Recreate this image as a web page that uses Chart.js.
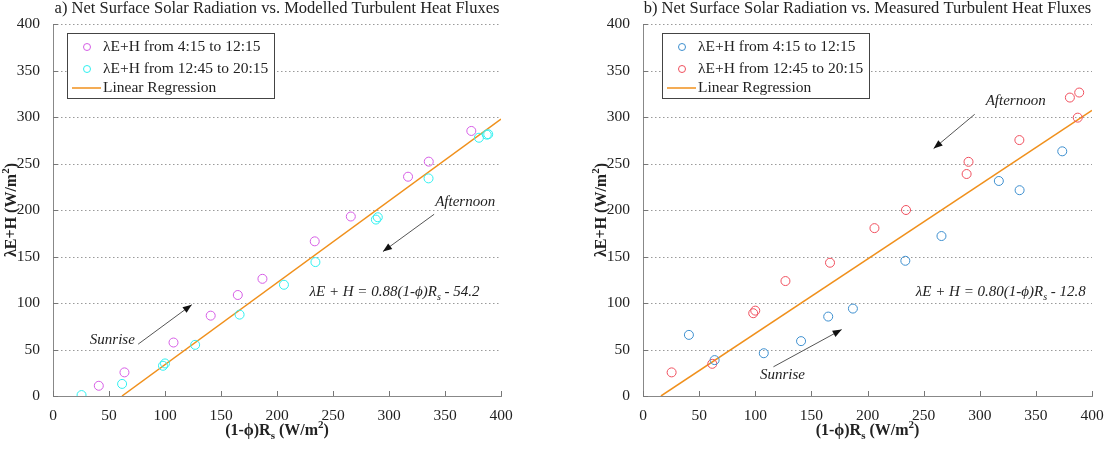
<!DOCTYPE html>
<html>
<head>
<meta charset="utf-8">
<script src="https://cdn.jsdelivr.net/npm/chart.js@4.4.0/dist/chart.umd.min.js"></script>
<style>
body{margin:0;background:#fff;width:1115px;height:450px;overflow:hidden;position:relative}
.panel{position:absolute;top:0;height:450px}
</style>
</head>
<body>
<div class="panel" style="left:0;width:557px"><canvas id="plotA"></canvas></div>
<div class="panel" style="left:557px;width:558px"><canvas id="plotB"></canvas></div>
<script>
// tick labels, same on both axes
const axisTicks = [0, 50, 100, 150, 200, 250, 300, 350, 400];

// (1-phi)Rs for the morning half hours (4:15 - 12:15)
const xMorning = [40.9, 63.8, 107.6, 140.8, 165, 187, 233.7, 265.9, 317, 335.5, 373.5];
const modelMorning = [11, 25.4, 57.5, 86.4, 108.6, 126, 166.3, 193, 235.8, 252, 285];
const measMorning = [65.7, 38.6, 46, 59, 85.4, 94, 145.4, 172, 231.2, 221.3, 263.1];

// (1-phi)Rs for the afternoon half hours (12:45 - 20:15)
const xAfternoon = [25.5, 61.7, 98.2, 100, 126.9, 166.6, 206.2, 234.3, 288.3, 290, 335.3, 380.3, 387.3, 388.6];
const modelAfternoon = [1, 13, 32.5, 35, 55, 87.5, 119.6, 144, 189.7, 192.2, 234, 277.7, 281, 281.5];
const measAfternoon = [25.4, 34.6, 89, 91.8, 123.6, 143.3, 180.5, 200, 238.7, 251.8, 275.2, 320.9, 299.3, 326.3];

// regression line end points
const regModelX = [61.6, 400];
const regModelY = [0, 297.8];
const regMeasX = [16, 400];
const regMeasY = [0, 307.2];

const SERIF = '"Liberation Serif", "Times New Roman", serif';
Chart.defaults.font.family = SERIF;
Chart.defaults.font.size = 15.5;
Chart.defaults.color = '#222';

function pts(xs, ys){
    return xs.map((x, i) => ({x: x, y: ys[i]}));
}

// draw text made of pieces, some of them sub/superscript
function richText(ctx, parts, x, y, style, size, align){
    let w = 0;
    parts.forEach(p => {
        ctx.font = style + ' ' + (p.sub || p.sup ? size - 5 : size) + 'px ' + SERIF;
        p.w = ctx.measureText(p.t).width;
        w += p.w;
    });
    let cx = align === 'center' ? x - w / 2 : x;
    ctx.textAlign = 'left';
    ctx.textBaseline = 'middle';
    parts.forEach(p => {
        ctx.font = style + ' ' + (p.sub || p.sup ? size - 5 : size) + 'px ' + SERIF;
        let dy = p.sub ? 5 : (p.sup ? -6 : 0);
        ctx.fillText(p.t, cx, y + dy);
        cx += p.w;
    });
}

function arrow(ctx, x1, y1, x2, y2){
    ctx.save();
    ctx.strokeStyle = '#555';
    ctx.fillStyle = '#111';
    ctx.lineWidth = 1;
    ctx.beginPath();
    ctx.moveTo(x1, y1);
    ctx.lineTo(x2, y2);
    ctx.stroke();
    const a = Math.atan2(y2 - y1, x2 - x1);
    ctx.beginPath();
    ctx.moveTo(x2, y2);
    ctx.lineTo(x2 - 9 * Math.cos(a) + 3.5 * Math.sin(a), y2 - 9 * Math.sin(a) - 3.5 * Math.cos(a));
    ctx.lineTo(x2 - 9 * Math.cos(a) - 3.5 * Math.sin(a), y2 - 9 * Math.sin(a) + 3.5 * Math.cos(a));
    ctx.closePath();
    ctx.fill();
    ctx.restore();
}

const decorPlugin = {
    id: 'decor',
    beforeDatasetsDraw(chart){
        // dotted horizontal grid
        const ctx = chart.ctx, ca = chart.chartArea, sy = chart.scales.y;
        ctx.save();
        ctx.strokeStyle = '#9a9a9a';
        ctx.lineWidth = 1;
        ctx.setLineDash([1.5, 2.5]);
        ctx.beginPath();
        axisTicks.forEach(v => {
            if (v === 0) return;
            const py = Math.round(sy.getPixelForValue(v)) + 0.5;
            ctx.moveTo(ca.left, py);
            ctx.lineTo(ca.right, py);
        });
        ctx.stroke();
        ctx.restore();
    },
    afterDraw(chart){
        const c = chart.options.plugins.decor;
        const ctx = chart.ctx;
        const ca = chart.chartArea;
        const sx = chart.scales.x, sy = chart.scales.y;
        ctx.save();

        // inward tick marks
        ctx.strokeStyle = '#777';
        ctx.lineWidth = 1;
        ctx.beginPath();
        axisTicks.forEach(v => {
            const px = Math.round(sx.getPixelForValue(v)) + 0.5;
            ctx.moveTo(px, ca.bottom);
            ctx.lineTo(px, ca.bottom - 5);
            const py = Math.round(sy.getPixelForValue(v)) + 0.5;
            ctx.moveTo(ca.left, py);
            ctx.lineTo(ca.left + 5, py);
        });
        ctx.stroke();

        // title
        ctx.fillStyle = '#222';
        ctx.font = '16.5px ' + SERIF;
        ctx.textAlign = 'center';
        ctx.textBaseline = 'middle';
        ctx.fillText(c.title, (ca.left + ca.right) / 2, 9);

        // axis titles
        richText(ctx, [{t: '(1-ϕ)R'}, {t: 's', sub: true}, {t: ' (W/m'}, {t: '2', sup: true}, {t: ')'}],
            (ca.left + ca.right) / 2, 431, 'bold', 16, 'center');
        ctx.save();
        ctx.translate(c.yTitleX, (ca.top + ca.bottom) / 2);
        ctx.rotate(-Math.PI / 2);
        richText(ctx, [{t: 'λE+H (W/m'}, {t: '2', sup: true}, {t: ')'}], 0, 0, 'bold', 16, 'center');
        ctx.restore();

        // legend
        const bx = ca.left + c.legendOffset, by = ca.top + 9;
        ctx.fillStyle = '#fff';
        ctx.fillRect(bx, by, 207, 65);
        ctx.strokeStyle = '#444';
        ctx.strokeRect(bx + 0.5, by + 0.5, 207, 65);
        const rows = [by + 14, by + 36, by + 55];
        ctx.lineWidth = 1;
        [c.colors[0], c.colors[1]].forEach((col, i) => {
            ctx.strokeStyle = col;
            ctx.beginPath();
            ctx.arc(bx + 20, rows[i], 3.5, 0, Math.PI * 2);
            ctx.stroke();
        });
        ctx.strokeStyle = c.colors[2];
        ctx.lineWidth = 1.5;
        ctx.beginPath();
        ctx.moveTo(bx + 5, rows[2]);
        ctx.lineTo(bx + 34, rows[2]);
        ctx.stroke();
        ctx.fillStyle = '#222';
        ctx.font = '15.5px ' + SERIF;
        ctx.textAlign = 'left';
        ctx.textBaseline = 'middle';
        ctx.fillText('λE+H from 4:15 to 12:15', bx + 36, rows[0]);
        ctx.fillText('λE+H from 12:45 to 20:15', bx + 36, rows[1]);
        ctx.fillText('Linear Regression', bx + 36, rows[2]);

        // notes and arrows
        ctx.fillStyle = '#222';
        c.notes.forEach(n => {
            richText(ctx, [{t: n.text}], sx.getPixelForValue(n.x), sy.getPixelForValue(n.y), 'italic', 15, 'center');
        });
        c.arrows.forEach(a => {
            arrow(ctx, sx.getPixelForValue(a[0]), sy.getPixelForValue(a[1]),
                sx.getPixelForValue(a[2]), sy.getPixelForValue(a[3]));
        });
        ctx.fillStyle = '#222';
        richText(ctx, [{t: 'λE + H = ' + c.eq[0] + '(1-ϕ)R'}, {t: 's', sub: true}, {t: ' - ' + c.eq[1]}],
            sx.getPixelForValue(c.eqAt[0]), sy.getPixelForValue(c.eqAt[1]), 'italic', 15, 'left');

        ctx.restore();
    }
};

function makeChart(id, c){
    const scaleBase = {
        type: 'linear',
        min: 0,
        max: 400,
        afterBuildTicks: s => { s.ticks = axisTicks.map(v => ({value: v})); },
        border: {display: true, color: '#888', width: 1}
    };
    return new Chart(document.getElementById(id), {
        type: 'scatter',
        data: {
            datasets: [
                {
                    label: 'λE+H from 4:15 to 12:15',
                    data: pts(xMorning, c.morning),
                    borderColor: c.colors[0],
                    backgroundColor: 'rgba(0,0,0,0)',
                    borderWidth: 1,
                    pointRadius: 4.5
                },
                {
                    label: 'λE+H from 12:45 to 20:15',
                    data: pts(xAfternoon, c.afternoon),
                    borderColor: c.colors[1],
                    backgroundColor: 'rgba(0,0,0,0)',
                    borderWidth: 1,
                    pointRadius: 4.5
                },
                {
                    label: 'Linear Regression',
                    data: pts(c.regX, c.regY),
                    showLine: true,
                    borderColor: c.colors[2],
                    borderWidth: 1.5,
                    pointRadius: 0
                }
            ]
        },
        options: {
            responsive: true,
            maintainAspectRatio: false,
            animation: false,
            layout: {padding: {top: 24, right: c.rightPad, left: 0, bottom: 0}},
            plugins: {
                legend: {display: false},
                tooltip: {enabled: false},
                decor: c
            },
            scales: {
                x: Object.assign({}, scaleBase, {
                    afterFit: s => { s.height = 54; },
                    grid: {display: false},
                    ticks: {padding: 3, maxRotation: 0, color: '#222'}
                }),
                y: Object.assign({}, scaleBase, {
                    afterFit: s => { s.width = c.yWidth; },
                    grid: {display: false},
                    ticks: {padding: 5, color: '#222'}
                })
            }
        },
        plugins: [decorPlugin]
    });
}

makeChart('plotA', {
    title: 'a) Net Surface Solar Radiation vs. Modelled Turbulent Heat Fluxes',
    morning: modelMorning,
    afternoon: modelAfternoon,
    regX: regModelX,
    regY: regModelY,
    colors: ['#d65ee6', '#2ff0f0', '#f0901c'],
    yWidth: 53,
    rightPad: 56,
    yTitleX: 12,
    legendOffset: 14,
    eq: ['0.88', '54.2'],
    eqAt: [229, 111.4],
    notes: [{text: 'Afternoon', x: 368, y: 208}, {text: 'Sunrise', x: 53, y: 60.4}],
    arrows: [[340.3, 195.4, 294.6, 155.3], [76, 55.7, 123.9, 98.2]]
});

makeChart('plotB', {
    title: 'b) Net Surface Solar Radiation vs. Measured Turbulent Heat Fluxes',
    morning: measMorning,
    afternoon: measAfternoon,
    regX: regMeasX,
    regY: regMeasY,
    colors: ['#3d8fcf', '#f0505e', '#f0901c'],
    yWidth: 86,
    rightPad: 23,
    yTitleX: 45,
    legendOffset: 19,
    eq: ['0.80', '12.8'],
    eqAt: [243, 111.4],
    notes: [{text: 'Afternoon', x: 332, y: 317.3}, {text: 'Sunrise', x: 124.2, y: 22.9}],
    arrows: [[295.5, 302.9, 258.9, 266], [116.2, 31.4, 177, 71.4]]
});
</script>
</body>
</html>
